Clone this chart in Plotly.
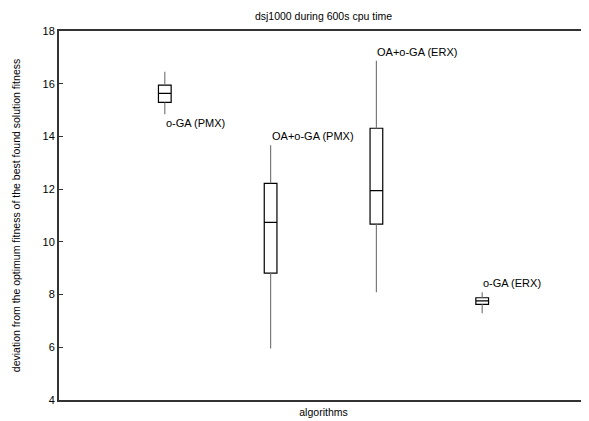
import plotly.graph_objects as go

algorithms = ["o-GA (PMX)", "OA+o-GA (PMX)", "OA+o-GA (ERX)", "o-GA (ERX)"]
positions = [0, 1, 2, 3]
whisker_low = [14.84, 5.95, 8.09, 7.29]
q1 = [15.29, 8.81, 10.67, 7.63]
median = [15.63, 10.74, 11.94, 7.76]
q3 = [15.95, 12.22, 14.31, 7.88]
whisker_high = [16.45, 13.67, 16.87, 8.09]
label_below = [True, False, False, False]
y_ticks = [4, 6, 8, 10, 12, 14, 16, 18]

FONT = "Liberation Sans, Arial, sans-serif"

fig = go.Figure()

# whiskers (gray)
for i, p in enumerate(positions):
    fig.add_trace(go.Scatter(
        x=[p, p, None, p, p],
        y=[whisker_low[i], q1[i], None, q3[i], whisker_high[i]],
        mode="lines", line=dict(color="#7a7a7a", width=1.2),
        showlegend=False, hoverinfo="skip"))

# boxes
fig.add_trace(go.Box(
    x=positions, q1=q1, median=median, q3=q3,
    lowerfence=q1, upperfence=q3,
    width=0.12, whiskerwidth=0,
    fillcolor="white", line=dict(color="black", width=1.2),
    showlegend=False, boxpoints=False))

for i, p in enumerate(positions):
    if label_below[i]:
        y, shift = whisker_low[i], -9
    else:
        y, shift = whisker_high[i], 9
    fig.add_annotation(x=p, y=y, text=algorithms[i], showarrow=False,
                       xanchor="left", yanchor="middle", yshift=shift, xshift=-1,
                       font=dict(family=FONT, size=11, color="black"))

# the page body has an 8px margin, so the figure is sized to fit the window
fig.update_layout(
    width=581, height=413,
    margin=dict(l=51, r=1, t=23, b=21, autoexpand=False),
    paper_bgcolor="white", plot_bgcolor="white",
    title=dict(text="dsj1000 during 600s cpu time", x=0.543, xanchor="center",
               y=0.988, yanchor="top", font=dict(family=FONT, size=10.5, color="black")),
    font=dict(family=FONT, size=11, color="black"),
)
fig.update_xaxes(range=[-1, 4], showticklabels=False, ticks="", showgrid=False,
                 zeroline=False, showline=True, mirror=True, linecolor="#333",
                 linewidth=2, automargin=False,
                 title=dict(text="algorithms", standoff=8,
                            font=dict(family=FONT, size=10.5)))
fig.update_yaxes(range=[4, 18], tickvals=y_ticks, ticks="inside", ticklen=4,
                 tickcolor="#333", showgrid=False, zeroline=False, showline=True,
                 mirror=True, linecolor="#333", linewidth=2, automargin=False,
                 tickfont=dict(family=FONT, size=11),
                 title=dict(text="deviation from the optimum fitness of the best found solution fitness",
                            standoff=20, font=dict(family=FONT, size=10.5)))

fig.write_html("out.html")
